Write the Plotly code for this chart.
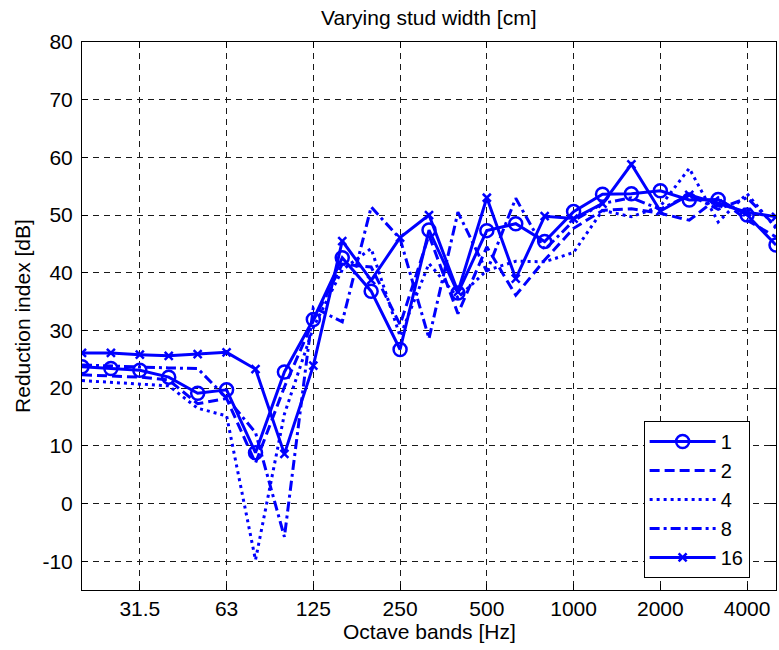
import plotly.graph_objects as go

# One-third octave band centre frequencies [Hz]
freqs = [19.69, 24.80, 31.25, 39.37, 49.61, 62.50, 78.75, 99.21, 125.0,
         157.5, 198.4, 250.0, 315.0, 396.9, 500.0, 630.0, 793.7, 1000.0,
         1260.0, 1587.0, 2000.0, 2520.0, 3175.0, 4000.0, 5040.0]

# Reduction index [dB] for each stud width [cm]
r_1 = [23.7, 23.4, 23.1, 21.9, 19.1, 19.7, 8.8, 22.8, 31.9, 42.6, 36.8, 26.7, 47.4,
       36.5, 47.3, 48.5, 45.4, 50.6, 53.6, 53.7, 54.2, 52.6, 52.7, 50.0, 44.8]
r_2 = [22.3, 22.1, 21.9, 21.4, 17.3, 18.2, 7.0, 20.2, 31.7, 41.5, 41.0, 31.0, 46.5,
       32.9, 44.5, 36.1, 42.2, 47.7, 50.8, 51.1, 50.3, 49.1, 53.0, 49.1, 46.2]
r_4 = [21.3, 21.0, 20.8, 20.4, 16.5, 15.2, -9.8, 15.5, 30.5, 40.5, 44.2, 29.0, 41.6,
       35.7, 40.4, 42.0, 41.9, 43.5, 50.8, 49.7, 51.5, 58.1, 48.8, 53.7, 47.7]
r_8 = [24.0, 23.8, 23.6, 23.5, 23.4, 18.3, 12.3, -5.8, 34.0, 31.5, 51.4, 45.9, 28.6,
       50.5, 40.2, 52.9, 44.0, 49.0, 52.0, 53.0, 51.0, 53.5, 51.0, 53.0, 48.0]
r_16 = [26.1, 26.1, 25.8, 25.6, 25.9, 26.2, 23.3, 8.6, 23.9, 45.5, 38.7, 46.1, 50.0,
        36.7, 53.0, 39.0, 49.8, 49.4, 52.0, 58.8, 50.7, 53.5, 52.0, 50.5, 49.7]

tick_freqs = [31.25, 62.5, 125.0, 250.0, 500.0, 1000.0, 2000.0, 4000.0]
tick_labels = ["31.5", "63", "125", "250", "500", "1000", "2000", "4000"]
y_ticks = [-10, 0, 10, 20, 30, 40, 50, 60, 70, 80]
y_labels = ["-10", "0", "10", "20", "30", "40", "50", "60", "70", "80"]

BLUE = "#0000FF"
FONT = "Liberation Sans, Arial, sans-serif"

series = [
    ("1", r_1, "solid", dict(symbol="circle-open", size=13, line=dict(width=2.5, color=BLUE))),
    ("2", r_2, "10px,5px", None),
    ("4", r_4, "3px,4px", None),
    ("8", r_8, "10px,4px,3px,4px", None),
    ("16", r_16, "solid", dict(symbol="x-thin", size=8, line=dict(width=2.5, color=BLUE))),
]

fig = go.Figure()
for name, vals, dash, marker in series:
    fig.add_trace(go.Scatter(
        x=freqs, y=vals, name=name,
        mode="lines+markers" if marker else "lines",
        line=dict(color=BLUE, width=3, dash=dash),
        marker=marker,
    ))

axis_common = dict(
    showline=True, linecolor="black", linewidth=1, mirror="ticks",
    ticks="inside", ticklen=6, tickcolor="black", tickwidth=1,
    showgrid=True, gridcolor="#1a1a1a", gridwidth=1, griddash="6px,5px",
    zeroline=False, tickfont=dict(family=FONT, size=21, color="black"),
)

fig.update_xaxes(
    type="log", range=[1.2942, 3.7024],
    tickvals=tick_freqs, ticktext=tick_labels, **axis_common,
)
fig.update_yaxes(
    range=[-15, 80], tickvals=y_ticks, ticktext=y_labels,
    ticklabelstandoff=4, **axis_common,
)

fig.update_layout(
    width=779, height=650,
    margin=dict(l=82, r=3, t=42, b=60),
    paper_bgcolor="white", plot_bgcolor="white",
    font=dict(family=FONT, size=21, color="black"),
    showlegend=True,
    legend=dict(
        x=0.962, y=0.022, xanchor="right", yanchor="bottom",
        bgcolor="white", bordercolor="black", borderwidth=1,
        font=dict(family=FONT, size=20, color="black"),
        tracegroupgap=0, itemwidth=66,
    ),
    annotations=[
        dict(text="Varying stud width [cm]", xref="paper", yref="paper",
             x=0.5, y=1.0456, showarrow=False, xanchor="center", yanchor="middle",
             font=dict(family=FONT, size=21)),
        dict(text="Octave bands [Hz]", xref="paper", yref="paper",
             x=0.5, y=-0.0766, showarrow=False, xanchor="center", yanchor="middle",
             font=dict(family=FONT, size=21)),
        dict(text="Reduction index [dB]", xref="paper", yref="paper",
             x=-0.0865, y=0.5, showarrow=False, xanchor="center", yanchor="middle",
             textangle=-90, font=dict(family=FONT, size=21)),
    ],
)

fig.write_html("out.html")
